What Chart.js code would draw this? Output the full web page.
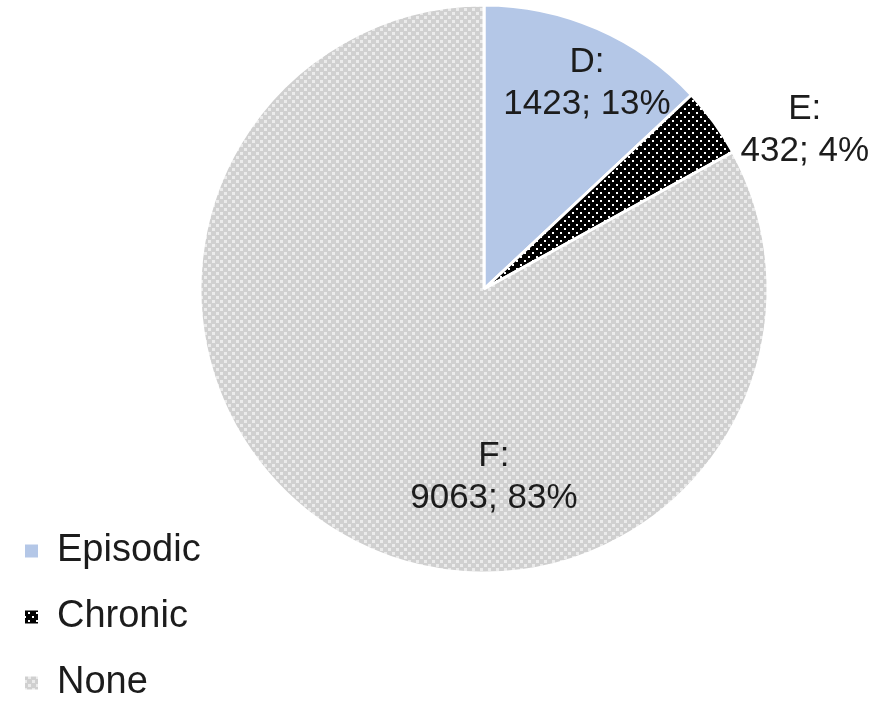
<!DOCTYPE html>
<html>
<head>
<meta charset="utf-8">
<script src="https://cdn.jsdelivr.net/npm/chart.js@4"></script>
</head>
<body style="margin:0;padding:0;background:#fff">
<div style="position:relative;width:889px;height:704px"><canvas id="canvas"></canvas></div>
<script>
// data
const categories = ['Episodic', 'Chronic', 'None'];
const sliceLetters = ['D', 'E', 'F'];
const counts = [1423, 432, 9063];

// where each label sits: [angle in degrees from the centre, fraction of the radius]
const labelPlaces = [[-63.4, 0.81], [-26.3, 1.26], [87, 0.665]];

const textColor = '#1c1c1c';
const fontFamily = '"Liberation Sans", Arial, sans-serif';

function dotPattern(bg, dot, size) {
    let c = document.createElement('canvas');
    c.width = 8; c.height = 8;
    let g = c.getContext('2d');
    g.fillStyle = bg;
    g.fillRect(0, 0, 8, 8);
    g.fillStyle = dot;
    g.fillRect(0, 0, size, size);
    g.fillRect(4, 4, size, size);
    return g.createPattern(c, 'repeat');
}

const fills = [
    '#b4c7e7',
    dotPattern('#000000', '#ffffff', 2),
    dotPattern('#d0d0d0', '#ebebeb', 3)
];

const total = counts.reduce((a, b) => a + b, 0);

const sliceLabels = {
    id: 'sliceLabels',
    afterDatasetsDraw(chart) {
        let ctx = chart.ctx;
        let meta = chart.getDatasetMeta(0);
        ctx.save();
        ctx.font = '35px ' + fontFamily;
        ctx.fillStyle = textColor;
        ctx.textAlign = 'center';
        ctx.textBaseline = 'middle';
        meta.data.forEach((arc, i) => {
            let [deg, frac] = labelPlaces[i];
            let a = deg * Math.PI / 180;
            let r = arc.outerRadius * frac;
            let x = arc.x + Math.cos(a) * r;
            let y = arc.y + Math.sin(a) * r;
            let pct = Math.round(counts[i] / total * 100);
            ctx.fillText(sliceLetters[i] + ':', x, y - 21);
            ctx.fillText(counts[i] + '; ' + pct + '%', x, y + 21);
        });
        ctx.restore();
    }
};

// legend sits in the bottom left corner, outside the pie's layout box
const legendCorner = {
    id: 'legendCorner',
    afterLayout(chart) {
        let lg = chart.legend;
        lg.left = -3;
        lg.top = 0;
        lg.bottom = 730;
        lg.right = 300;
    }
};

let canvas = document.getElementById('canvas');
let ctx = canvas.getContext('2d');
const chart = new Chart(ctx, {
    type: 'pie',
    data: {
        labels: categories,
        datasets: [{
            data: counts,
            backgroundColor: fills,
            borderColor: '#ffffff',
            borderWidth: 3
        }]
    },
    options: {
        responsive: true,
        maintainAspectRatio: false,
        animation: false,
        layout: {padding: {left: 198, right: 119, top: 3.5, bottom: 129.5}},
        plugins: {
            tooltip: {enabled: false},
            legend: {
                position: 'chartArea',
                align: 'end',
                labels: {
                    boxWidth: 13,
                    boxHeight: 13,
                    padding: 28,
                    color: textColor,
                    font: {family: fontFamily, size: 38},
                    generateLabels(chart) {
                        return Chart.overrides.pie.plugins.legend.labels.generateLabels(chart)
                            .map(item => Object.assign(item, {lineWidth: 0}));
                    }
                }
            }
        }
    },
    plugins: [sliceLabels, legendCorner]
});
</script>
</body>
</html>
